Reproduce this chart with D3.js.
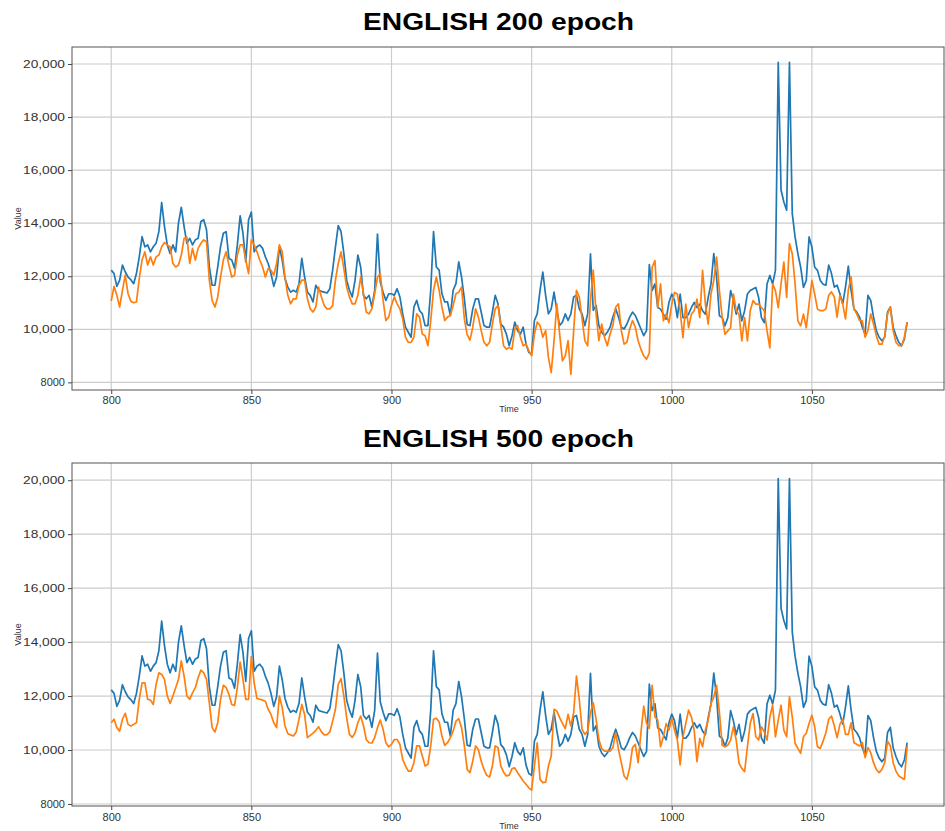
<!DOCTYPE html>
<html>
<head>
<meta charset="utf-8">
<script src="https://cdn.jsdelivr.net/npm/d3@7"></script>
<style>
  body { margin: 0; background: #fff; }
  svg { display: block; font-family: "Liberation Sans", Arial, sans-serif; }
</style>
</head>
<body>
<script>
// 시간 축 (800 ~ 1084)
var times = d3.range(800, 1085);

// 실제 값 (두 그래프 공통, 파란색)
var actual = [
  12230,12100,11620,11850,12420,12160,11970,11870,11720,12100,
  12730,13490,13110,13180,12920,13110,13240,13680,14780,13870,
  13180,12860,13180,12920,14000,14600,13870,13240,13430,13180,
  13370,13430,14060,14130,13750,12350,11660,11660,12350,13110,
  13620,13680,12670,12610,12290,13180,14280,13620,12540,14130,
  14420,12920,13110,13180,13050,12730,12480,12100,11620,11970,
  13110,12610,11910,11590,11400,11470,11400,11720,12670,11970,
  11400,11280,11030,11660,11470,11430,11400,11370,11530,12230,
  13110,13910,13680,12860,11850,11470,11220,11850,12800,12350,
  11280,11150,11280,10840,11470,13590,11780,11400,11090,11340,
  11340,11280,11530,11220,10580,10080,9890,9700,10840,11090,
  10710,10580,10140,10140,11470,13680,12350,12230,11340,11030,
  11030,10520,11470,11720,12540,11970,11150,10180,10140,10770,
  11150,11150,10650,10140,10080,10080,10650,11280,10960,10200,
  10080,9820,9380,9760,10270,9950,9820,10080,9440,9130,
  9060,10330,10580,11470,12160,11280,10580,10770,11400,10710,
  10140,10270,10580,10330,10580,11220,11280,10770,10580,10140,
  10580,12840,10710,10900,10140,9890,9760,9890,10080,10460,
  10770,10460,10080,10010,10200,10460,10650,10520,10270,10010,
  9760,9950,12440,11460,11710,10820,10760,10570,10380,11010,
  11330,11080,10440,11330,10440,10440,10570,10820,11010,10820,
  10950,10700,10570,11200,11710,12850,11960,10510,10440,10130,
  10440,11460,11080,10570,10950,10320,10700,11330,11460,11520,
  11580,11200,10440,10250,11710,12030,11710,12220,20060,15250,
  14800,14490,20060,14370,13480,12850,12340,11580,11840,13480,
  13100,12340,12220,11840,11700,11660,12420,12100,11590,11660,
  11340,10960,11590,12380,11470,10770,10650,10460,10080,9820,
  11280,11090,10460,9950,9700,9570,9700,10650,10840,10080,
  9760,9510,9380,9630,10270
];

// 200 epoch 예측값 (주황색)
var pred200 = [
  11060,11620,11280,10840,11470,12040,11340,11060,11000,11030,
  11910,12610,12920,12420,12730,12420,12730,12800,13110,13270,
  13180,13110,12480,12350,12420,12800,13430,13470,12480,13050,
  12610,13050,13240,13370,13300,11850,11090,10840,11220,11970,
  12610,12920,12420,11970,12040,12800,13180,13180,12610,12100,
  13370,13180,12920,12610,12350,11970,12290,12230,12040,12480,
  13180,12920,11970,11280,10960,11150,11150,11660,11850,11850,
  11150,10770,10650,10840,11590,11220,10900,10770,10770,10900,
  11850,12480,12920,12290,11590,11220,10960,10960,11280,11970,
  11340,10650,10580,10770,11340,11970,12100,11090,10330,10460,
  10900,11220,10960,10770,10390,9700,9510,9510,9700,10580,
  10460,9820,9760,9380,10330,11470,11970,11470,10840,10330,
  10460,10520,10900,11340,11400,11590,10390,9800,9590,10080,
  10770,10460,9950,9510,9380,9510,10200,10770,10900,10140,
  9380,9250,9320,9250,10010,10140,9700,9380,9440,9190,
  9000,9820,10270,10140,9700,9950,8940,8370,9570,10960,
  9820,8810,9000,9570,8300,9950,11470,11220,10390,9570,
  9380,11090,12230,10580,9570,10200,9700,9380,9820,10140,
  10840,10960,9950,9440,9510,10010,10330,10080,9570,9250,
  9000,8870,9110,12340,12590,10820,11710,10320,10570,10250,
  10950,11390,11330,10700,9680,10950,10060,10570,10700,11140,
  10440,12220,10950,10190,11330,11840,12720,11460,10440,9810,
  9940,10060,11330,10700,10570,9560,10440,9560,10700,11080,
  10950,10950,10820,10700,9940,9300,11710,11460,10820,11710,
  12530,11200,13230,12850,11710,10320,10130,10570,10060,10950,
  11840,11330,10760,10700,10700,10770,11280,11410,11220,10460,
  11280,10960,10390,11470,11970,10770,10580,10330,10330,9700,
  9950,10580,10200,9760,9440,9440,9760,10580,10840,9950,
  9510,9380,9380,9700,10270
];

// 500 epoch 예측값 (주황색)
var pred500 = [
  11010,11140,10830,10700,11140,11360,10950,10890,10950,11010,
  11880,12490,12490,11880,11850,11690,12430,12860,12800,12620,
  12000,11730,12000,12310,12620,13300,12740,12000,11880,12120,
  12310,12680,12960,12860,12620,11750,10830,10670,11010,11880,
  12400,12310,12060,11690,11650,12310,13260,12620,11880,11880,
  13460,12490,11910,11880,11850,11810,11510,11320,11010,10830,
  12000,11570,10890,10610,10560,10520,10670,11140,11690,11320,
  10460,10540,10630,10730,10860,10670,10560,10570,10670,11070,
  11510,12430,12650,12000,11200,10580,10470,10640,11010,11260,
  10910,10390,10270,10260,10460,10830,11110,10770,10270,10120,
  10210,10390,10390,10210,9650,9410,9220,9220,9530,10150,
  10150,9780,9410,9470,10150,11140,11180,11040,10520,10170,
  10270,10460,10700,11070,11160,10830,10150,9280,9160,9590,
  10150,10020,9590,9280,9060,9000,9410,10150,10090,9410,
  9180,9040,9070,9310,9340,9160,9010,8850,8730,8600,
  8510,9410,10270,8910,8790,8810,9410,9780,11510,11440,
  11200,10990,10790,11320,10890,11380,12740,11880,10770,10580,
  10700,11380,11750,11140,10390,10050,9960,9960,9960,10090,
  10640,10020,9530,9040,8910,9340,10090,10210,9530,10640,
  11630,11000,10800,12400,11230,11110,10120,10490,10980,10740,
  11170,10740,10370,9450,10490,10980,11480,11230,10740,9570,
  10430,10120,10740,11110,11720,11970,12400,11410,10180,10120,
  10180,10370,10860,10370,9510,9320,9200,10120,10980,11350,
  10490,10370,10860,10680,10370,11230,11660,10490,11110,11660,
  10740,10490,11970,11230,10250,10060,9880,10490,10620,10980,
  11290,10860,10120,10060,10330,10640,11140,11260,10890,10460,
  10950,11140,10580,10580,11010,10270,10210,10150,10270,9720,
  10090,9900,9530,9280,9160,9280,9530,10330,10150,9530,
  9220,9040,8970,8910,10150
];

// 눈금
var xTicks = [800, 850, 900, 950, 1000, 1050];
var yTicks = [8000, 10000, 12000, 14000, 16000, 18000, 20000];
var yTickLabels = ["8000", "10,000", "12,000", "14,000", "16,000", "18,000", "20,000"];
var titles = ["ENGLISH 200 epoch", "ENGLISH 500 epoch"];

var W = 945, H = 831;
var svg = d3.select("body").append("svg")
  .attr("width", W)
  .attr("height", H);

var x = d3.scaleLinear().domain([786, 1097.5]).range([72, 945]);

// p: 패널 배치 정보
function drawPanel(p, pred) {
  var top = p.top, bottom = p.bottom;
  var y = d3.scaleLinear().domain(p.yDomain).range([bottom, top]);
  var g = svg.append("g");

  // 제목
  g.append("text")
    .attr("x", 498.5)
    .attr("y", p.titleY)
    .attr("text-anchor", "middle")
    .attr("font-size", "24px")
    .attr("font-weight", "bold")
    .attr("fill", "#000")
    .attr("textLength", 271)
    .attr("lengthAdjust", "spacingAndGlyphs")
    .text(p.title);

  // 격자
  g.selectAll(".gx").data(xTicks).enter().append("line")
    .attr("x1", function (d) { return x(d); })
    .attr("x2", function (d) { return x(d); })
    .attr("y1", top).attr("y2", bottom)
    .attr("stroke", "#cccccc").attr("stroke-width", 1.2);
  g.selectAll(".gy").data(yTicks).enter().append("line")
    .attr("x1", 72).attr("x2", 945)
    .attr("y1", function (d) { return y(d); })
    .attr("y2", function (d) { return y(d); })
    .attr("stroke", "#cccccc").attr("stroke-width", 1.2);

  // 선
  var line = d3.line()
    .x(function (d, i) { return x(times[i]); })
    .y(function (d) { return y(d); });

  g.append("path").datum(actual)
    .attr("d", line)
    .attr("fill", "none")
    .attr("stroke", "#1f77b4")
    .attr("stroke-width", 1.7)
    .attr("stroke-linejoin", "round");

  g.append("path").datum(pred)
    .attr("d", line)
    .attr("fill", "none")
    .attr("stroke", "#ff7f0e")
    .attr("stroke-width", 1.7)
    .attr("stroke-linejoin", "round");

  // 축
  var ax = g.append("g")
    .attr("transform", "translate(0," + bottom + ")")
    .call(d3.axisBottom(x).tickValues(xTicks).tickSize(4).tickPadding(p.xPad).tickFormat(d3.format("d")));
  var ay = g.append("g")
    .attr("transform", "translate(72,0)")
    .call(d3.axisLeft(y).tickValues(yTicks).tickSize(4).tickPadding(3)
      .tickFormat(function (d, i) { return yTickLabels[i]; }));

  [ax, ay].forEach(function (a) {
    a.select(".domain").remove();
    a.selectAll("line").attr("stroke", "#444");
    a.selectAll("text")
      .attr("font-family", "Liberation Sans, Arial, sans-serif")
      .attr("font-size", "11px")
      .attr("fill", "#333");
  });
  // 쉼표가 있는 눈금 글자는 원본처럼 조금 넓게
  ay.selectAll("text")
    .filter(function (d, i) { return yTickLabels[i].indexOf(",") >= 0; })
    .attr("textLength", 42)
    .attr("lengthAdjust", "spacingAndGlyphs");

  // 테두리
  g.append("rect")
    .attr("x", 72).attr("y", top)
    .attr("width", 872).attr("height", bottom - top)
    .attr("fill", "none")
    .attr("stroke", "#555")
    .attr("stroke-width", 1);

  // 축 이름
  g.append("text")
    .attr("x", 509).attr("y", p.timeY)
    .attr("text-anchor", "middle")
    .attr("font-size", "9px").attr("fill", "#333")
    .text("Time");
  g.append("text")
    .attr("transform", "translate(21," + ((top + bottom) / 2) + ") rotate(-90)")
    .attr("text-anchor", "middle")
    .attr("font-size", "9px").attr("fill", "#333")
    .text("Value");
}

drawPanel({ title: titles[0], titleY: 30, top: 47, bottom: 390, yDomain: [7712, 20640], xPad: 2, timeY: 412 }, pred200);
drawPanel({ title: titles[1], titleY: 447, top: 463, bottom: 806, yDomain: [7925, 20638], xPad: 3, timeY: 829 }, pred500);
</script>
</body>
</html>
